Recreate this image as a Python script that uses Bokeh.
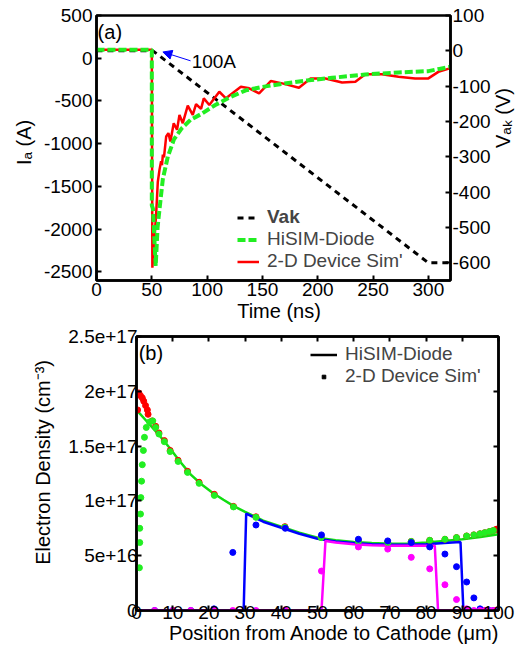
import numpy as np
from bokeh.plotting import figure
from bokeh.models import (Range1d, LinearAxis, FixedTicker, Legend, LegendItem,
                          Label, Arrow, NormalHead)
from bokeh.embed import file_html
from bokeh.resources import INLINE

FONT = "Liberation Sans"
NB = "\u00a0"

# ---------------- (a) transient data ----------------
time_vak = [0, 51, 300, 320]
vak = [0, 0, -600, -600]

time_hisim = [0, 50, 50, 51, 53.5, 55.2, 57, 60, 64.5, 70, 77, 85, 95, 107, 120,
              135, 150, 170, 190, 213, 243, 273, 300, 310, 320]
ia_hisim = [100, 100, -1720, -1760, -2430, -1980, -1760, -1410, -1150, -950, -820,
            -720, -650, -550, -460, -375, -335, -295, -260, -229, -190, -166,
            -151, -125, -100]

time_dev = [0, 50, 50.5, 52, 54, 55.4, 57, 58.4, 59.2, 60, 61, 63, 65, 66.8, 69.8,
            72.8, 75, 78, 82.5, 87, 90, 94.5, 97, 102, 111, 117, 130.5, 138, 147,
            157.5, 168, 183, 193.5, 207, 222, 234, 243, 258, 273, 288, 300, 309, 320]
ia_dev = [100, 100, -2450, -2200, -1800, -1450, -1300, -1206, -1250, -1128, -1160,
          -915, -876, -973, -760, -837, -663, -760, -555, -663, -538, -593, -469,
          -547, -392, -469, -334, -352, -410, -267, -294, -345, -236, -236, -283,
          -275, -186, -186, -217, -236, -236, -159, -115]

xticks_a = [0, 50, 100, 150, 200, 250, 300]
yticks_a = [500, 0, -500, -1000, -1500, -2000, -2500]
vticks_a = [100, 0, -100, -200, -300, -400, -500, -600]

# ---------------- (b) electron density data (units of 1e16 cm^-3) ----------------
pos_line = [0, 3, 6, 9, 12, 15, 18, 21, 24, 27, 30, 35, 40, 45, 50, 55, 60, 65,
            70, 75, 80, 85, 90, 95, 100]
n_green_line = [18.3, 17.2, 16.1, 14.9, 13.6, 12.4, 11.5, 10.75, 10.1, 9.5, 9.0,
                8.2, 7.65, 7.1, 6.65, 6.4, 6.25, 6.15, 6.1, 6.1, 6.2, 6.35, 6.5,
                6.7, 6.95]

pos_blue_line = [0, 29.6, 30.3, 35, 40, 45, 50, 55, 60, 65, 70, 75, 80, 85, 89.5,
                 90.3, 100]
n_blue_line = [0, 0, 8.85, 8.1, 7.55, 7.0, 6.55, 6.3, 6.15, 6.05, 6.0, 6.0, 6.05,
               6.15, 6.25, 0, 0]

pos_mag_line = [0, 51.1, 52.2, 55, 60, 65, 70, 75, 80, 82.4, 83.3, 100]
n_mag_line = [0, 0, 6.35, 6.2, 6.05, 5.95, 5.9, 5.9, 5.9, 5.9, 0, 0]

pos_red_dots = [0.3, 0.65, 1.1, 1.6, 2.0, 2.5, 3.0, 3.2, 4.3, 5.3, 6.2, 7.7, 9.3,
                11.5, 14.1, 17.3, 21.5, 26.8, 33, 41, 51, 61.3, 69.4, 75.9, 81,
                85.2, 88.4, 91.2, 93.2, 94.9, 96.2, 97.5, 98.6, 99.3, 99.8]
n_red_dots = [18.3, 19.85, 19.6, 19.4, 19.1, 18.7, 18.3, 17.9, 17.3, 16.8, 16.2,
              15.5, 14.6, 13.7, 12.7, 11.7, 10.6, 9.5, 8.55, 7.65, 6.7, 6.35, 6.25,
              6.3, 6.4, 6.5, 6.65, 6.8, 6.9, 7.0, 7.1, 7.2, 7.3, 7.4, 7.45]

pos_green_dots = [0.8, 0.9, 0.9, 1.1, 1.2, 1.4, 1.6, 1.9, 2.2, 2.7, 3.6, 4.5, 5.3,
                  6.2, 7.7, 9.3, 11.5, 14.1, 17.3, 21.5, 26.8, 33, 41, 51, 61.3,
                  69.4, 75.9, 81, 85.2, 88.4, 91.2, 93.2, 94.9, 96.2, 97.5, 98.6]
n_green_dots = [3.9, 6.2, 7.5, 8.8, 10.3, 11.8, 13.3, 14.6, 15.8, 16.7, 17.2, 17.3,
                16.7, 16.1, 15.4, 14.5, 13.6, 12.6, 11.6, 10.5, 9.45, 8.5, 7.6,
                6.65, 6.3, 6.2, 6.3, 6.4, 6.5, 6.65, 6.8, 6.9, 7.0, 7.1, 7.2, 7.3]

pos_bm_dots = [5, 10, 15, 21.4, 26.6, 33, 41.1, 51.1, 61.3, 69.4, 75.9, 81, 85.2,
               88.4, 91.2, 93.2, 94.9, 96.2, 97.5, 98.6, 99.3]
n_blue_dots = [0, 0, 0, 0.15, 5.3, 7.8, 7.5, 6.9, 6.5, 6.35, 6.2, 5.8, 5.15, 4.0,
               2.6, 1.15, 0.15, 0, 0, 0, 0]
n_mag_dots = [0, 0, 0, 0, 0, 0, 0.05, 3.6, 5.8, 5.6, 4.85, 3.8, 2.35, 1.0, 0.15,
              0, 0, 0, 0, 0, 0]

xticks_b = [0, 10, 20, 30, 40, 50, 60, 70, 80, 90, 100]
yticks_b = [0, 5e16, 1e17, 1.5e17, 2e17, 2.5e17]
ytick_labels_b = ["0", "5e+16", "1e+17", "1.5e+17", "2e+17", "2.5e+17"]

E16 = 1e16


def style_axis(ax, size="19px", standoff=3, label_standoff=0):
    ax.axis_line_width = 2.5
    ax.axis_line_color = "black"
    ax.major_tick_in = 5
    ax.major_tick_out = 0
    ax.major_tick_line_width = 2
    ax.minor_tick_line_color = None
    ax.major_label_text_font = FONT
    ax.major_label_text_font_size = size
    ax.major_label_text_color = "black"
    ax.major_label_standoff = standoff
    ax.axis_label_text_font = FONT
    ax.axis_label_text_font_size = "20px"
    ax.axis_label_text_font_style = "normal"
    ax.axis_label_text_color = "black"
    ax.axis_label_standoff = label_standoff


def lab(p, text, x, y, size="20px", align="left"):
    p.add_layout(Label(x=x, y=y, text=text, text_font=FONT,
                       text_font_size=size, text_align=align,
                       text_baseline="middle", text_color="black"))


def legend_entry(p, label, renderer, x, y, glyph_width, glyph_height=19,
                 style="normal"):
    p.add_layout(Legend(items=[LegendItem(label=label, renderers=[renderer])],
                        location=(x, y), padding=0, margin=0, spacing=0,
                        glyph_width=glyph_width, glyph_height=glyph_height,
                        label_height=24, label_standoff=8,
                        label_text_font=FONT, label_text_font_size="19px",
                        label_text_font_style=style,
                        background_fill_alpha=0, border_line_alpha=0))


# ================= figure (a) =================
p1 = figure(width=527, height=326, x_range=Range1d(0, 320), y_range=Range1d(-2600, 500),
            output_backend="svg", toolbar_location=None,
            min_border_left=96, min_border_right=74, min_border_top=15,
            min_border_bottom=46)
p1.extra_y_ranges = {"vak": Range1d(-650, 100)}
p1.grid.visible = False
p1.outline_line_color = "black"
p1.outline_line_width = 2.5

p1.xaxis.ticker = FixedTicker(ticks=xticks_a)
p1.xaxis.major_label_overrides = {t: str(t) for t in xticks_a}
p1.yaxis.ticker = FixedTicker(ticks=yticks_a)
p1.yaxis.major_label_overrides = {t: str(t) for t in yticks_a}
p1.xaxis.axis_label = NB * 2 + "Time (ns)"
p1.yaxis.axis_label = NB * 2 + "Iₐ (A)"
style_axis(p1.xaxis[0], standoff=2, label_standoff=1)
style_axis(p1.yaxis[0], standoff=4, label_standoff=6)

rax = LinearAxis(y_range_name="vak", ticker=FixedTicker(ticks=vticks_a),
                 major_label_overrides={t: str(t) for t in vticks_a},
                 axis_label="Vₐₖ (V)")
style_axis(rax, standoff=2, label_standoff=9)
try:
    rax.axis_label_orientation = np.pi / 2
except Exception:
    pass
p1.add_layout(rax, "right")

r_vak = p1.line(time_vak, vak, y_range_name="vak", line_color="black",
                line_width=3, line_dash="6 5")
r_dev = p1.line(time_dev, ia_dev, line_color="#ff0000", line_width=2.5)
r_his = p1.line(time_hisim, ia_hisim, line_color="#22ee22", line_width=4,
                line_dash="8 3")

legend_entry(p1, "Vak", r_vak, 141, 51, 22, style="bold")
legend_entry(p1, "HiSIM-Diode", r_his, 141, 29, 22)
legend_entry(p1, "2-D Device Sim'", r_dev, 141, 7, 22)

lab(p1, "(a)", 1, 305)
lab(p1, "100A", 86, -35, size="19px")
p1.add_layout(Arrow(x_start=85, y_start=-30, x_end=60, y_end=73,
                    line_color="#0000ff", line_width=1,
                    end=NormalHead(size=9, fill_color="#0000ff",
                                   line_color="#0000ff")))

# ================= figure (b) =================
p2 = figure(width=527, height=326, x_range=Range1d(0, 100), y_range=Range1d(0, 2.5e17),
            output_backend="svg", toolbar_location=None,
            min_border_left=136, min_border_right=29, min_border_top=10,
            min_border_bottom=42)
p2.grid.visible = False
p2.outline_line_color = "black"
p2.outline_line_width = 2.5

p2.xaxis.ticker = FixedTicker(ticks=xticks_b)
p2.xaxis.major_label_overrides = {t: str(t) for t in xticks_b}
p2.yaxis.ticker = FixedTicker(ticks=yticks_b)
p2.yaxis.major_label_overrides = dict(zip(yticks_b, ytick_labels_b))
p2.xaxis.axis_label = NB * 6 + "Position from Anode to Cathode (μm)"
p2.yaxis.axis_label = NB * 4 + "Electron Density (cm⁻³)"
style_axis(p2.xaxis[0], standoff=-5, label_standoff=0)
style_axis(p2.yaxis[0], standoff=-1, label_standoff=11)

tax = LinearAxis(ticker=FixedTicker(ticks=xticks_b))
style_axis(tax, size="1px")
tax.major_label_text_color = None
p2.add_layout(tax, "above")
rax2 = LinearAxis(ticker=FixedTicker(ticks=yticks_b))
style_axis(rax2, size="1px")
rax2.major_label_text_color = None
p2.add_layout(rax2, "right")

p2.line(pos_line, np.array(n_green_line) * E16, line_color="#11dd11", line_width=2.5)
p2.line(pos_blue_line, np.array(n_blue_line) * E16, line_color="#0000ff", line_width=2.5)
p2.line(pos_mag_line, np.array(n_mag_line) * E16, line_color="#ff00ff", line_width=2.5)

p2.scatter(pos_red_dots, np.array(n_red_dots) * E16, size=6, color="#ff0000")
p2.scatter(pos_green_dots, np.array(n_green_dots) * E16, size=6, color="#22ee22")
p2.scatter(pos_bm_dots, np.array(n_blue_dots) * E16, size=6, color="#0000ff")
p2.scatter(pos_bm_dots, np.array(n_mag_dots) * E16, size=6, color="#ff00ff")

# legend-only renderers (a single NaN sample draws nothing in the plot area)
d_line = p2.line([np.nan], [np.nan], line_color="black", line_width=2.5)
d_dot = p2.scatter([np.nan], [np.nan], marker="square", size=4, color="black")
legend_entry(p2, "HiSIM-Diode", d_line, 174, 244, 27)
legend_entry(p2, "2-D Device Sim'", d_dot, 174, 222, 27, glyph_height=9)

lab(p2, "(b)", 0.6, 2.35e17)

open("out.html", "w").write(file_html([p1, p2], INLINE))
